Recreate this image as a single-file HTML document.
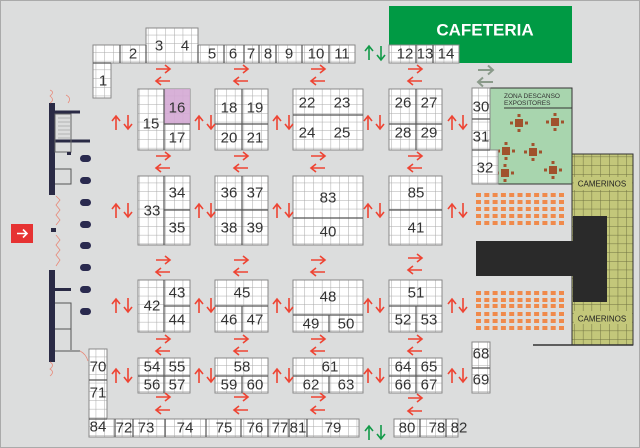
<!DOCTYPE html>
<html><head><meta charset="utf-8"><style>
html,body{margin:0;padding:0;background:#dcdddd;}
svg{display:block;}
text{font-family:"Liberation Sans",sans-serif;}
</style></head><body>
<svg width="640" height="448" viewBox="0 0 640 448" xmlns="http://www.w3.org/2000/svg">
<defs>
<pattern id="g" width="8.7" height="8.7" patternUnits="userSpaceOnUse">
<rect width="8.7" height="8.7" fill="#fff"/>
<path d="M0 0H8.7M0 0V8.7" stroke="#a8a8a8" stroke-width="1" fill="none"/>
</pattern>
<pattern id="o" width="8.7" height="8.7" patternUnits="userSpaceOnUse">
<rect width="8.7" height="8.7" fill="#c3c77a"/>
<path d="M0 0H8.7M0 0V8.7" stroke="#6f7140" stroke-width="1" fill="none"/>
</pattern>
<path id="a" d="M0 0H14M9 -4L14 0L9 4" stroke="#ee4433" stroke-width="1.6" fill="none"/>
<path id="ag" d="M0 0H14M9 -4L14 0L9 4" stroke="#129a48" stroke-width="1.6" fill="none"/>
<path id="ay" d="M0 0H15M10 -4.5L15 0L10 4.5" stroke="#8a9a8a" stroke-width="2" fill="none"/>
<g id="sr" fill="#f08a4b"><rect x="476" y="0" width="5" height="4"/><rect x="484.3" y="0" width="5" height="4"/><rect x="492.6" y="0" width="5" height="4"/><rect x="500.9" y="0" width="5" height="4"/><rect x="509.2" y="0" width="5" height="4"/><rect x="517.5" y="0" width="5" height="4"/><rect x="525.8" y="0" width="5" height="4"/><rect x="534.1" y="0" width="5" height="4"/><rect x="542.4" y="0" width="5" height="4"/><rect x="550.7" y="0" width="5" height="4"/><rect x="559" y="0" width="5" height="4"/></g>
<g id="tb" fill="#a0522d"><rect x="-4" y="-4" width="8" height="8"/><rect x="-1.5" y="-9" width="3" height="3"/><rect x="-1.5" y="6" width="3" height="3"/><rect x="-9" y="-1.5" width="3" height="3"/><rect x="6" y="-1.5" width="3" height="3"/></g>
</defs>
<rect x="0.5" y="0.5" width="639" height="447" fill="#dcdddd" stroke="#aaa"/>

<rect x="389" y="6" width="183" height="57" fill="#009a44"/>
<text x="485" y="30" font-size="17" font-weight="bold" fill="#fff" text-anchor="middle" dominant-baseline="central">CAFETERIA</text>

<rect x="490" y="88" width="82" height="96" fill="#a8d5ae" stroke="#333" stroke-width="1"/>
<text x="504" y="98" font-size="6.5" fill="#333">ZONA DESCANSO</text>
<text x="504" y="105" font-size="6.5" fill="#333">EXPOSITORES</text>
<line x1="504" y1="108" x2="572" y2="108" stroke="#333"/>
<use href="#tb" x="519" y="123"/><use href="#tb" x="555" y="122"/><use href="#tb" x="506" y="151"/><use href="#tb" x="533" y="152"/><use href="#tb" x="505" y="173"/><use href="#tb" x="553" y="170"/>

<rect x="572" y="154" width="61" height="191" fill="url(#o)" stroke="#333"/>
<rect x="573" y="216" width="34" height="86" fill="#2a2a2a"/>
<rect x="476" y="241" width="97" height="35" fill="#2a2a2a"/>
<line x1="533" y1="345" x2="633" y2="345" stroke="#333" stroke-width="1.5"/>
<rect x="574" y="177" width="58" height="13" fill="#c3c77a"/>
<text x="602" y="184" font-size="8" fill="#222" text-anchor="middle" dominant-baseline="central">CAMERINOS</text>
<rect x="574" y="311" width="58" height="13" fill="#c3c77a"/>
<text x="602" y="319" font-size="8" fill="#222" text-anchor="middle" dominant-baseline="central">CAMERINOS</text>

<use href="#sr" y="193"/><use href="#sr" y="200"/><use href="#sr" y="207"/><use href="#sr" y="214"/><use href="#sr" y="221"/>
<use href="#sr" y="291"/><use href="#sr" y="298"/><use href="#sr" y="304"/><use href="#sr" y="312"/><use href="#sr" y="319"/><use href="#sr" y="326"/>

<g fill="url(#g)" stroke="#888" stroke-width="1">
<path d="M93 45H146V28H198V45H355V63H111V98H93Z"/>
<rect x="389" y="45" width="70" height="18"/>
<rect x="472" y="88" width="18" height="62"/>
<rect x="472" y="150" width="26" height="34"/>
<rect x="472" y="342" width="18" height="51"/>
<path d="M89 349H107V419H359V437H89Z"/>
<rect x="394" y="419" width="64" height="18"/>
<rect x="138" y="89" width="52" height="61"/><rect x="215" y="89" width="53" height="61"/><rect x="293" y="89" width="70" height="61"/><rect x="389" y="89" width="53" height="61"/>
<rect x="138" y="176" width="52" height="69"/><rect x="215" y="176" width="53" height="69"/><rect x="293" y="176" width="70" height="69"/><rect x="389" y="176" width="53" height="69"/>
<rect x="138" y="280" width="52" height="52"/><rect x="215" y="280" width="53" height="52"/><rect x="293" y="280" width="70" height="52"/><rect x="389" y="280" width="53" height="52"/>
<rect x="138" y="358" width="52" height="35"/><rect x="215" y="358" width="53" height="35"/><rect x="293" y="358" width="70" height="35"/><rect x="389" y="358" width="53" height="35"/>
</g>
<rect x="164" y="89" width="26" height="35" fill="#d4a8d4" opacity="0.9"/>
<g stroke="#555" stroke-width="1.2" fill="none">
<path d="M120 45V63M146 45V63M198 45V63M224 45V63M244 45V63M259 45V63M276 45V63M302 45V63M329 45V63M93 63H111"/>
<path d="M416 45V63M433 45V63"/>
<path d="M472 119H490M472 150H490"/>
<path d="M472 368H490"/>
<path d="M89 380H107M89 419H107M115 419V437M133 419V437M165 419V437M206 419V437M241 419V437M268 419V437M289 419V437M307 419V437"/>
<path d="M420 419V437M446 419V437"/>
<path d="M164 89V150M164 124H190M242 89V150M215 124H268M293 115H363M416 89V150M389 124H442"/>
<path d="M164 176V245M164 210H190M242 176V245M215 210H268M293 218H363M389 210H442"/>
<path d="M164 280V332M164 306H190M215 306H268M242 306V332M293 315H363M329 315V332M389 306H442M416 306V332"/>
<path d="M164 358V393M138 376H190M215 376H268M242 376V393M293 376H363M329 376V393M416 358V393M389 376H442"/>
</g>

<g font-size="15" fill="#333" text-anchor="middle" dominant-baseline="central">
<text x="103" y="81">1</text><text x="133" y="54">2</text><text x="159" y="46">3</text><text x="185" y="46">4</text><text x="212" y="54">5</text><text x="233" y="54">6</text><text x="251" y="54">7</text><text x="268" y="54">8</text><text x="289" y="54">9</text><text x="316" y="54">10</text><text x="342" y="54">11</text>
<text x="405" y="54">12</text><text x="425" y="54">13</text><text x="446" y="54">14</text>
<text x="151" y="124">15</text><text x="177" y="108">16</text><text x="177" y="138">17</text>
<text x="229" y="108">18</text><text x="255" y="108">19</text><text x="229" y="138">20</text><text x="255" y="138">21</text>
<text x="307" y="103">22</text><text x="342" y="103">23</text><text x="307" y="133">24</text><text x="342" y="133">25</text>
<text x="403" y="103">26</text><text x="429" y="103">27</text><text x="403" y="133">28</text><text x="429" y="133">29</text>
<text x="481" y="107">30</text><text x="481" y="137">31</text><text x="485" y="168">32</text>
<text x="152" y="211">33</text><text x="177" y="193">34</text><text x="177" y="228">35</text>
<text x="229" y="193">36</text><text x="255" y="193">37</text><text x="229" y="228">38</text><text x="255" y="228">39</text>
<text x="328" y="198">83</text><text x="328" y="232">40</text>
<text x="416" y="193">85</text><text x="416" y="228">41</text>
<text x="152" y="306">42</text><text x="177" y="293">43</text><text x="177" y="320">44</text>
<text x="242" y="293">45</text><text x="229" y="320">46</text><text x="255" y="320">47</text>
<text x="328" y="297">48</text><text x="311" y="324">49</text><text x="346" y="324">50</text>
<text x="416" y="293">51</text><text x="403" y="320">52</text><text x="429" y="320">53</text>
<text x="152" y="367">54</text><text x="177" y="367">55</text><text x="152" y="385">56</text><text x="177" y="385">57</text>
<text x="242" y="367">58</text><text x="229" y="385">59</text><text x="255" y="385">60</text>
<text x="330" y="367">61</text><text x="311" y="385">62</text><text x="346" y="385">63</text>
<text x="403" y="367">64</text><text x="429" y="367">65</text><text x="403" y="385">66</text><text x="429" y="385">67</text>
<text x="481" y="354">68</text><text x="481" y="380">69</text>
<text x="98" y="367">70</text><text x="98" y="393">71</text><text x="98" y="427">84</text>
<text x="124" y="428">72</text><text x="146" y="428">73</text><text x="185" y="428">74</text><text x="224" y="428">75</text><text x="255" y="428">76</text><text x="280" y="428">77</text><text x="298" y="428">81</text><text x="333" y="428">79</text>
<text x="407" y="428">80</text><text x="437" y="428">78</text><text x="459" y="428">82</text>
</g>

<!-- horizontal arrow pairs -->
<g>
<use href="#a" transform="translate(156,69)"/><use href="#a" transform="translate(170,81) rotate(180)"/>
<use href="#a" transform="translate(234,69)"/><use href="#a" transform="translate(248,81) rotate(180)"/>
<use href="#a" transform="translate(311,69)"/><use href="#a" transform="translate(325,81) rotate(180)"/>
<use href="#a" transform="translate(408,69)"/><use href="#a" transform="translate(422,81) rotate(180)"/>

<use href="#a" transform="translate(156,156)"/><use href="#a" transform="translate(170,168) rotate(180)"/>
<use href="#a" transform="translate(234,156)"/><use href="#a" transform="translate(248,168) rotate(180)"/>
<use href="#a" transform="translate(311,156)"/><use href="#a" transform="translate(325,168) rotate(180)"/>
<use href="#a" transform="translate(408,156)"/><use href="#a" transform="translate(422,168) rotate(180)"/>

<use href="#a" transform="translate(156,260)"/><use href="#a" transform="translate(170,272) rotate(180)"/>
<use href="#a" transform="translate(234,260)"/><use href="#a" transform="translate(248,272) rotate(180)"/>
<use href="#a" transform="translate(311,260)"/><use href="#a" transform="translate(325,272) rotate(180)"/>
<use href="#a" transform="translate(408,258)"/><use href="#a" transform="translate(422,270) rotate(180)"/>

<use href="#a" transform="translate(156,339)"/><use href="#a" transform="translate(170,351) rotate(180)"/>
<use href="#a" transform="translate(234,339)"/><use href="#a" transform="translate(248,351) rotate(180)"/>
<use href="#a" transform="translate(311,339)"/><use href="#a" transform="translate(325,351) rotate(180)"/>
<use href="#a" transform="translate(408,339)"/><use href="#a" transform="translate(422,351) rotate(180)"/>

<use href="#a" transform="translate(156,397)"/><use href="#a" transform="translate(170,410) rotate(180)"/>
<use href="#a" transform="translate(234,397)"/><use href="#a" transform="translate(248,410) rotate(180)"/>
<use href="#a" transform="translate(311,397)"/><use href="#a" transform="translate(325,410) rotate(180)"/>
<use href="#a" transform="translate(408,398)"/><use href="#a" transform="translate(422,411) rotate(180)"/>
</g>
<!-- vertical arrow pairs -->
<g>
<use href="#a" transform="translate(116,130) rotate(-90)"/><use href="#a" transform="translate(128,115) rotate(90)"/>
<use href="#a" transform="translate(199,130) rotate(-90)"/><use href="#a" transform="translate(211,115) rotate(90)"/>
<use href="#a" transform="translate(277,130) rotate(-90)"/><use href="#a" transform="translate(289,115) rotate(90)"/>
<use href="#a" transform="translate(368,130) rotate(-90)"/><use href="#a" transform="translate(380,115) rotate(90)"/>
<use href="#a" transform="translate(452,130) rotate(-90)"/><use href="#a" transform="translate(463,115) rotate(90)"/>

<use href="#a" transform="translate(116,218) rotate(-90)"/><use href="#a" transform="translate(128,203) rotate(90)"/>
<use href="#a" transform="translate(199,218) rotate(-90)"/><use href="#a" transform="translate(211,203) rotate(90)"/>
<use href="#a" transform="translate(277,218) rotate(-90)"/><use href="#a" transform="translate(289,203) rotate(90)"/>
<use href="#a" transform="translate(368,218) rotate(-90)"/><use href="#a" transform="translate(380,203) rotate(90)"/>
<use href="#a" transform="translate(452,218) rotate(-90)"/><use href="#a" transform="translate(463,203) rotate(90)"/>

<use href="#a" transform="translate(116,313) rotate(-90)"/><use href="#a" transform="translate(128,298) rotate(90)"/>
<use href="#a" transform="translate(199,313) rotate(-90)"/><use href="#a" transform="translate(211,298) rotate(90)"/>
<use href="#a" transform="translate(277,313) rotate(-90)"/><use href="#a" transform="translate(289,298) rotate(90)"/>
<use href="#a" transform="translate(368,313) rotate(-90)"/><use href="#a" transform="translate(380,298) rotate(90)"/>
<use href="#a" transform="translate(452,313) rotate(-90)"/><use href="#a" transform="translate(463,298) rotate(90)"/>

<use href="#a" transform="translate(116,383) rotate(-90)"/><use href="#a" transform="translate(128,368) rotate(90)"/>
<use href="#a" transform="translate(199,383) rotate(-90)"/><use href="#a" transform="translate(211,368) rotate(90)"/>
<use href="#a" transform="translate(277,383) rotate(-90)"/><use href="#a" transform="translate(289,368) rotate(90)"/>
<use href="#a" transform="translate(368,383) rotate(-90)"/><use href="#a" transform="translate(380,368) rotate(90)"/>
<use href="#a" transform="translate(452,383) rotate(-90)"/><use href="#a" transform="translate(463,368) rotate(90)"/>
</g>
<use href="#ag" transform="translate(369,60) rotate(-90)"/><use href="#ag" transform="translate(381,46) rotate(90)"/>
<use href="#ag" transform="translate(369,440) rotate(-90)"/><use href="#ag" transform="translate(381,425) rotate(90)"/>
<use href="#ay" transform="translate(478,70)"/><use href="#ay" transform="translate(493,82) rotate(180)"/>

<!-- left wall -->
<rect x="49" y="103" width="6" height="92" fill="#2a2a45"/>
<rect x="49" y="270" width="6" height="92" fill="#2a2a45"/>
<path d="M55 112H80M55 141H90" stroke="#2a2a45" stroke-width="3" fill="none"/>
<rect x="55" y="114" width="16" height="38" fill="none" stroke="#666"/>
<path d="M58 118H70M58 122H70M58 126H70M58 130H70M58 134H70M58 138H70" stroke="#888" stroke-width="0.6"/>
<rect x="67" y="152" width="4" height="3" fill="#2a2a45"/>
<path d="M55 169H71V184H55" stroke="#555" fill="none"/>
<path d="M55 303H71V350M55 329H71M55 351H80" stroke="#555" fill="none"/>
<rect x="55" y="288" width="16" height="3" fill="#2a2a45"/>
<rect x="51" y="228" width="5" height="4" fill="#2a2a45"/>
<path d="M56 196L60 200L56 205L60 210L56 215L60 220L56 225M56 235L60 240L56 245L60 250L56 255L60 260L56 266M50 90Q55 92 50 96Q55 100 50 103M66 95Q72 98 68 103M50 362Q55 365 50 369Q55 372 50 376M80 351Q86 354 88 361" stroke="#e88a7a" stroke-width="0.8" fill="none"/>
<g fill="#2a2a4f">
<rect x="80" y="155" width="11" height="7" rx="3.5"/><rect x="80" y="177" width="11" height="7" rx="3.5"/><rect x="80" y="199" width="11" height="7" rx="3.5"/><rect x="80" y="221" width="11" height="7" rx="3.5"/><rect x="80" y="242" width="11" height="7" rx="3.5"/><rect x="80" y="264" width="11" height="7" rx="3.5"/><rect x="80" y="286" width="11" height="7" rx="3.5"/><rect x="80" y="308" width="11" height="7" rx="3.5"/>
</g>
<rect x="11" y="224" width="22" height="19" fill="#e63232"/>
<path d="M17 233.5H27M23 229.5L27 233.5L23 237.5" stroke="#fff" stroke-width="1.6" fill="none"/>
</svg>
</body></html>
